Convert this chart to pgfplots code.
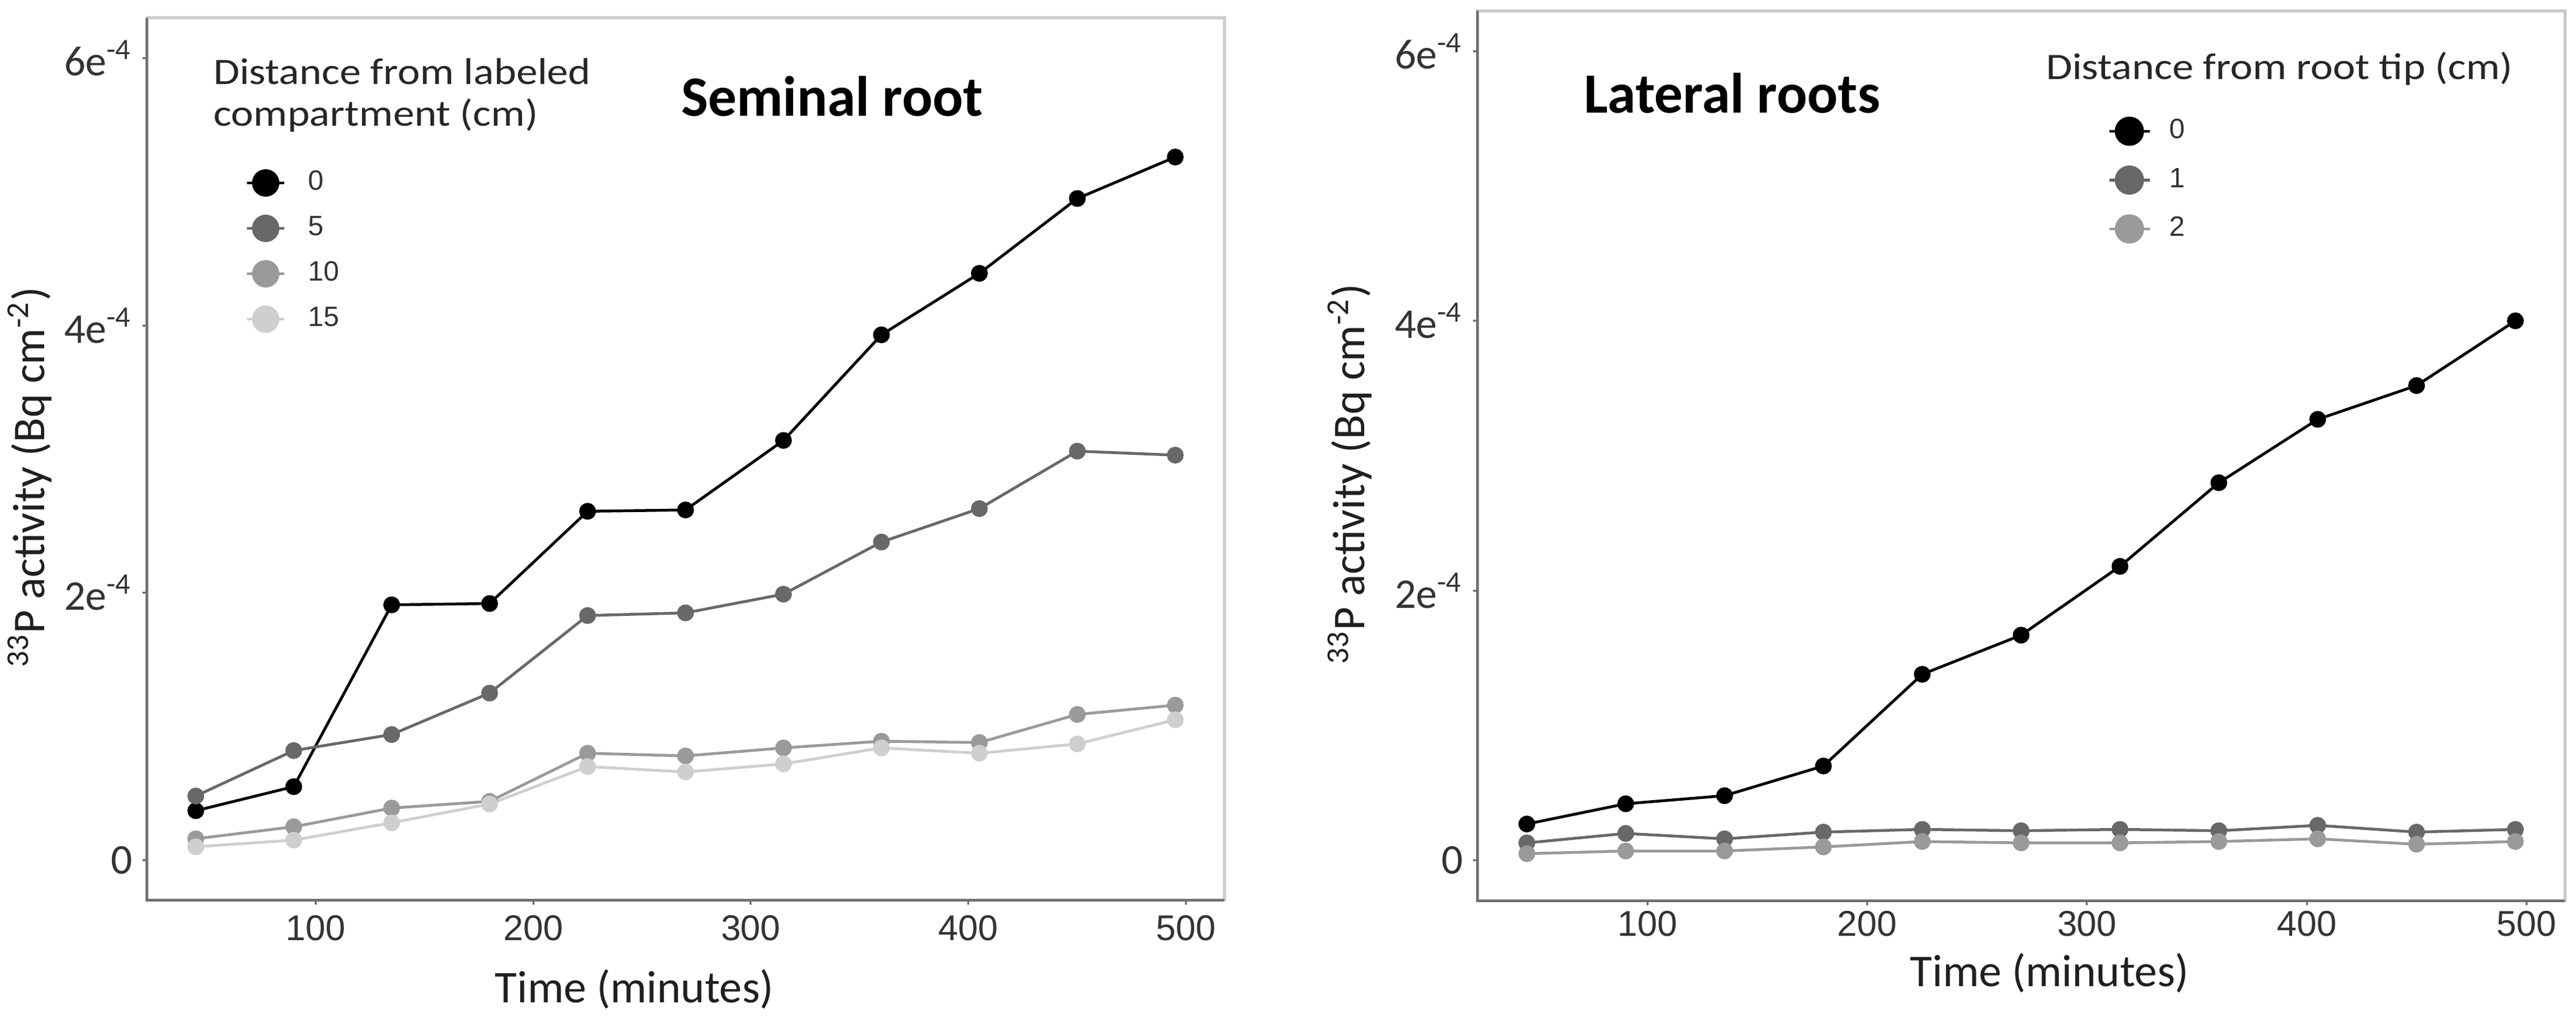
\documentclass[border=0pt]{standalone}
\usepackage{fontspec}
\setmainfont{Carlito}
\newfontfamily\arialf{Liberation Sans}
\newfontfamily\legtfont[FakeStretch=1.14]{Carlito}
\usepackage{pgfplots}
\pgfplotsset{compat=1.18}
\usepackage{pgfplotstable}

\definecolor{c0}{HTML}{000000}
\definecolor{c5}{HTML}{686868}
\definecolor{c10}{HTML}{9A9A9A}
\definecolor{c15}{HTML}{CFCFCF}
\definecolor{framelight}{HTML}{CCCCCC}
\definecolor{framedark}{HTML}{6E6E6E}
\definecolor{tickc}{HTML}{333333}

\pgfplotstableread{
t s0 s5 s10 s15
45 0.37e-4 0.48e-4 0.16e-4 0.10e-4
90 0.55e-4 0.82e-4 0.25e-4 0.15e-4
135 1.91e-4 0.94e-4 0.39e-4 0.28e-4
180 1.92e-4 1.25e-4 0.44e-4 0.42e-4
225 2.61e-4 1.83e-4 0.80e-4 0.70e-4
270 2.62e-4 1.85e-4 0.78e-4 0.66e-4
315 3.14e-4 1.99e-4 0.84e-4 0.72e-4
360 3.93e-4 2.38e-4 0.89e-4 0.84e-4
405 4.39e-4 2.63e-4 0.88e-4 0.80e-4
450 4.95e-4 3.06e-4 1.09e-4 0.87e-4
495 5.26e-4 3.03e-4 1.16e-4 1.05e-4
}\seminal

\pgfplotstableread{
t r0 r1 r2
45 0.27e-4 0.13e-4 0.05e-4
90 0.42e-4 0.20e-4 0.07e-4
135 0.48e-4 0.16e-4 0.07e-4
180 0.70e-4 0.21e-4 0.10e-4
225 1.38e-4 0.23e-4 0.14e-4
270 1.67e-4 0.22e-4 0.13e-4
315 2.18e-4 0.23e-4 0.13e-4
360 2.80e-4 0.22e-4 0.14e-4
405 3.27e-4 0.26e-4 0.16e-4
450 3.52e-4 0.21e-4 0.12e-4
495 4.00e-4 0.23e-4 0.14e-4
}\lateral

\pgfplotsset{
  myaxis/.style={
    scale only axis, clip=false,
    axis lines=left, axis line style={draw=none},
    xmin=22.5, xmax=517.5, ymin=-0.3e-4, ymax=6.3e-4,
    xtick={100,200,300,400,500}, xticklabels={100,200,300,400,500},
    ytick={0,2e-4,4e-4,6e-4},
    yticklabels={0,2e\textsuperscript{-4},4e\textsuperscript{-4},6e\textsuperscript{-4}},
    scaled y ticks=false, scaled x ticks=false,
    tick align=outside, major tick length=1.4pt,
    tick style={framedark, line width=0.6pt},
    xticklabel style={font=\arialf\fontsize{11.5}{12}\selectfont, text=tickc, inner sep=0pt, anchor=north},
    yticklabel style={font=\fontsize{13.6}{14}\selectfont, text=tickc, inner sep=0pt, anchor=east, xshift=-3.1pt},
    legend cell align=left,
  },
  ln/.style={line width=0.9pt, no marks, forget plot},
  mk/.style={only marks, mark=*, mark size=2.5pt, forget plot},
}

\begin{document}
\begin{tikzpicture}
\useasboundingbox (0,0) rectangle (828.2pt,328.2pt);

% ---------- Seminal root ----------
\begin{axis}[myaxis, at={(47.2pt,38.8pt)}, anchor=south west,
  width=346.4pt, height=283.6pt,
  xticklabel style={yshift=-3.2pt},
  legend style={at={(0.0917,0.8286)}, anchor=north west, draw=none, fill=none,
    inner sep=0pt, outer sep=0pt, row sep=5.8pt, column sep=7.15pt,
    font=\arialf\fontsize{9}{9}\selectfont, text=tickc,
    nodes={inner sep=0pt}, cells={anchor=west}}]
\draw[framelight, line width=1pt] (rel axis cs:0,0) rectangle (rel axis cs:1,1);
\draw[framedark, line width=0.9pt] (rel axis cs:0,1) -- (rel axis cs:0,0) -- (rel axis cs:1,0);

\addlegendimage{legend image code/.code={\draw[c0,line width=0.9pt] (-6pt,0pt)--(6pt,0pt); \fill[c0] (0pt,0pt) circle[radius=4.2pt];}}
\addlegendentry{0}
\addlegendimage{legend image code/.code={\draw[c5,line width=0.9pt] (-6pt,0pt)--(6pt,0pt); \fill[c5] (0pt,0pt) circle[radius=4.2pt];}}
\addlegendentry{5}
\addlegendimage{legend image code/.code={\draw[c10,line width=0.9pt] (-6pt,0pt)--(6pt,0pt); \fill[c10] (0pt,0pt) circle[radius=4.2pt];}}
\addlegendentry{10}
\addlegendimage{legend image code/.code={\draw[c15,line width=0.9pt] (-6pt,0pt)--(6pt,0pt); \fill[c15] (0pt,0pt) circle[radius=4.2pt];}}
\addlegendentry{15}

\addplot[ln, c0] table[x=t, y=s0] {\seminal};
\addplot[ln, c5] table[x=t, y=s5] {\seminal};
\addplot[ln, c10] table[x=t, y=s10] {\seminal};
\addplot[ln, c15] table[x=t, y=s15] {\seminal};
\addplot[mk, c0] table[x=t, y=s0] {\seminal};
\addplot[mk, c5] table[x=t, y=s5] {\seminal};
\addplot[mk, c10] table[x=t, y=s10] {\seminal};
\addplot[mk, c15] table[x=t, y=s15] {\seminal};
\end{axis}

% ---------- Lateral roots ----------
\begin{axis}[myaxis, at={(475pt,38.6pt)}, anchor=south west,
  width=349.6pt, height=286.2pt,
  xticklabel style={yshift=-1.6pt},
  legend style={at={(0.5797,0.8809)}, anchor=north west, draw=none, fill=none,
    inner sep=0pt, outer sep=0pt, row sep=6.3pt, column sep=5.85pt,
    font=\arialf\fontsize{9}{9}\selectfont, text=tickc,
    nodes={inner sep=0pt}, cells={anchor=west}}]
\draw[framelight, line width=1pt] (rel axis cs:0,0) rectangle (rel axis cs:1,1);
\draw[framedark, line width=0.9pt] (rel axis cs:0,1) -- (rel axis cs:0,0) -- (rel axis cs:1,0);

\addlegendimage{legend image code/.code={\draw[c0,line width=0.9pt] (-6.5pt,0pt)--(6.5pt,0pt); \fill[c0] (0pt,0pt) circle[radius=4.5pt];}}
\addlegendentry{0}
\addlegendimage{legend image code/.code={\draw[c5,line width=0.9pt] (-6.5pt,0pt)--(6.5pt,0pt); \fill[c5] (0pt,0pt) circle[radius=4.5pt];}}
\addlegendentry{1}
\addlegendimage{legend image code/.code={\draw[c10,line width=0.9pt] (-6.5pt,0pt)--(6.5pt,0pt); \fill[c10] (0pt,0pt) circle[radius=4.5pt];}}
\addlegendentry{2}

\addplot[ln, c0] table[x=t, y=r0] {\lateral};
\addplot[ln, c5] table[x=t, y=r1] {\lateral};
\addplot[ln, c10] table[x=t, y=r2] {\lateral};
\addplot[mk, c0] table[x=t, y=r0] {\lateral};
\addplot[mk, c5] table[x=t, y=r1] {\lateral};
\addplot[mk, c10] table[x=t, y=r2] {\lateral};
\end{axis}

% ---------- texts ----------
\node[anchor=base west, inner sep=0pt, font=\bfseries\fontsize{18.3}{20}\selectfont] at (218.8pt,290.8pt) {Seminal root};
\node[anchor=base west, inner sep=0pt, font=\bfseries\fontsize{18.3}{20}\selectfont] at (509pt,291.8pt) {Lateral roots};

\node[anchor=base west, inner sep=0pt, font=\legtfont\fontsize{12}{13}\selectfont, text=black!85] at (68.4pt,301pt) {Distance from labeled};
\node[anchor=base west, inner sep=0pt, font=\legtfont\fontsize{12}{13}\selectfont, text=black!85] at (68.4pt,287.6pt) {compartment (cm)};
\node[anchor=base west, inner sep=0pt, font=\legtfont\fontsize{12}{13}\selectfont, text=black!85] at (657.6pt,302.6pt) {Distance from root tip (cm)};

\node[anchor=base, inner sep=0pt, font=\fontsize{14.6}{16}\selectfont, text=black!88] at (204pt,5.8pt) {Time (minutes)};
\node[anchor=base, inner sep=0pt, font=\fontsize{14.6}{16}\selectfont, text=black!88] at (659pt,11pt) {Time (minutes)};

\node[rotate=90, inner sep=0pt, font=\fontsize{14.6}{16}\selectfont, text=black!88] at (9.6pt,174.8pt) {\textsuperscript{33}P activity (Bq cm\textsuperscript{-2})};
\node[rotate=90, inner sep=0pt, font=\fontsize{14.6}{16}\selectfont, text=black!88] at (434pt,175.8pt) {\textsuperscript{33}P activity (Bq cm\textsuperscript{-2})};
\end{tikzpicture}
\end{document}
